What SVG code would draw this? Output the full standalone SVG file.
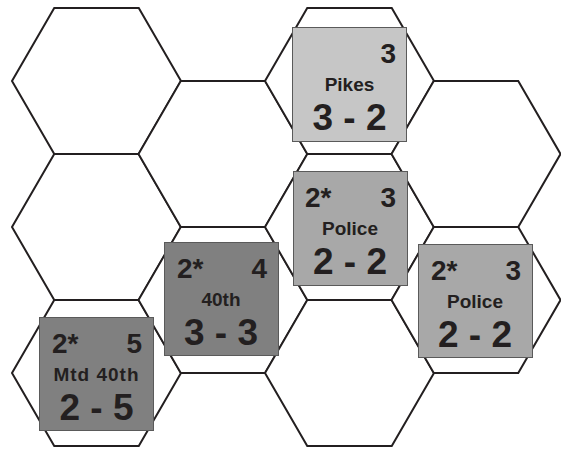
<svg xmlns="http://www.w3.org/2000/svg" xmlns:xlink="http://www.w3.org/1999/xlink" width="561" height="450" viewBox="0 0 561 450">
<style>
.hex{fill:#ffffff;stroke:#231f20;stroke-width:2;stroke-linejoin:miter}
.ctr{stroke:#5a5a5a;stroke-width:1}
.light{fill:#c6c6c6}
.mid{fill:#a8a8a8}
.dark{fill:#808080}
text{font-family:"Liberation Sans",Arial,sans-serif;font-weight:bold;fill:#231f20}
.sm{font-size:28px}
.nm{font-size:19px;text-anchor:middle}
.bg{font-size:37px;text-anchor:middle}
.r{text-anchor:end}
</style>
<defs>
<polygon id="hx" points="-84.5,0 -42.25,-73 42.25,-73 84.5,0 42.25,73 -42.25,73"/>
</defs>
<rect width="561" height="450" fill="#ffffff"/>
<g id="grid">
<use xlink:href="#hx" href="#hx" class="hex" x="96.5" y="81"/>
<use xlink:href="#hx" href="#hx" class="hex" x="96.5" y="227"/>
<use xlink:href="#hx" href="#hx" class="hex" x="96.5" y="373"/>
<use xlink:href="#hx" href="#hx" class="hex" x="223" y="154"/>
<use xlink:href="#hx" href="#hx" class="hex" x="223" y="300"/>
<use xlink:href="#hx" href="#hx" class="hex" x="349.5" y="81"/>
<use xlink:href="#hx" href="#hx" class="hex" x="349.5" y="227"/>
<use xlink:href="#hx" href="#hx" class="hex" x="349.5" y="373"/>
<use xlink:href="#hx" href="#hx" class="hex" x="476" y="154"/>
<use xlink:href="#hx" href="#hx" class="hex" x="476" y="300"/>
</g>
<g id="pikes">
<rect class="ctr light" x="292.5" y="27.5" width="114" height="114"/>
<text class="sm r" x="396" y="63">3</text>
<text class="nm" x="349.5" y="91">Pikes</text>
<text class="bg" x="349.5" y="129.5">3 - 2</text>
</g>
<g id="police1">
<rect class="ctr mid" x="293.5" y="171.5" width="114" height="114"/>
<text class="sm" x="305" y="207">2*</text>
<text class="sm r" x="396" y="207">3</text>
<text class="nm" x="350" y="235">Police</text>
<text class="bg" x="350" y="273.5">2 - 2</text>
</g>
<g id="police2">
<rect class="ctr mid" x="418.5" y="244.5" width="114" height="113"/>
<text class="sm" x="431" y="280">2*</text>
<text class="sm r" x="521" y="280">3</text>
<text class="nm" x="475" y="308">Police</text>
<text class="bg" x="475" y="346.5">2 - 2</text>
</g>
<g id="fortieth">
<rect class="ctr dark" x="164.5" y="242.5" width="114" height="113"/>
<text class="sm" x="177" y="278">2*</text>
<text class="sm r" x="267" y="278">4</text>
<text class="nm" x="221" y="306">40th</text>
<text class="bg" x="221" y="344.5">3 - 3</text>
</g>
<g id="mtd40th">
<rect class="ctr dark" x="39.5" y="317.5" width="114" height="113"/>
<text class="sm" x="52" y="353">2*</text>
<text class="sm r" x="142" y="353">5</text>
<text class="nm" x="96.5" y="381" letter-spacing="1">Mtd 40th</text>
<text class="bg" x="96.5" y="419.5">2 - 5</text>
</g>
</svg>
